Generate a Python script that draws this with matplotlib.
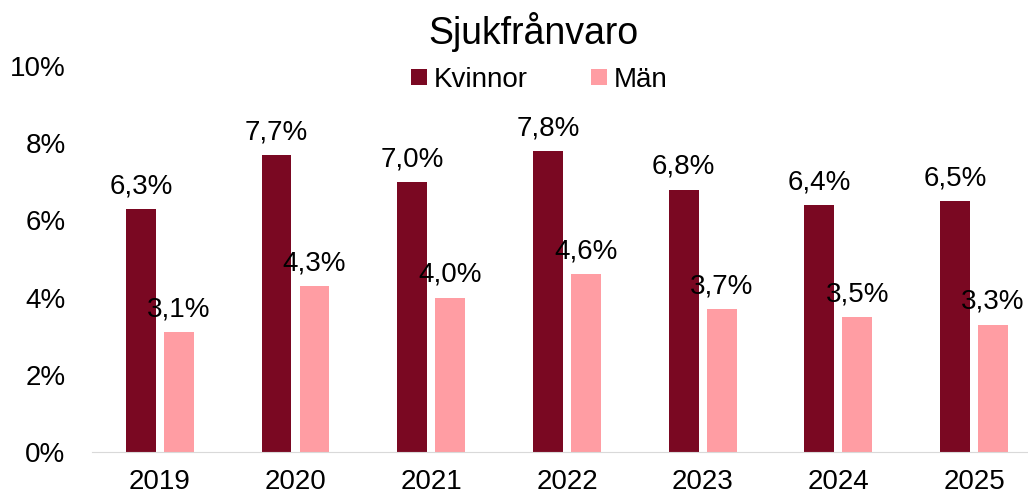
import matplotlib.pyplot as plt
import numpy as np

plt.rcParams['font.family'] = ['Liberation Sans', 'DejaVu Sans']

years = ['2019', '2020', '2021', '2022', '2023', '2024', '2025']
kvinnor = [6.3, 7.7, 7.0, 7.8, 6.8, 6.4, 6.5]
man = [3.1, 4.3, 4.0, 4.6, 3.7, 3.5, 3.3]

dark = '#7A0822'
light = '#FF9DA3'

fig = plt.figure(figsize=(10.28, 4.98), dpi=100)
ax = fig.add_axes([0.0895, 0.0924, 0.924, 0.775])

x = np.arange(len(years))
w = 0.22
b1 = ax.bar(x - 0.14, kvinnor, w, color=dark, label='Kvinnor')
b2 = ax.bar(x + 0.14, man, w, color=light, label='Män')

for rect, v in zip(b1, kvinnor):
    ax.annotate(f'{v:.1f}%'.replace('.', ','), (rect.get_x() + rect.get_width() / 2, v),
                xytext=(0, 7), textcoords='offset points', ha='center', va='bottom', fontsize=20)
for rect, v in zip(b2, man):
    ax.annotate(f'{v:.1f}%'.replace('.', ','), (rect.get_x() + rect.get_width() / 2, v),
                xytext=(0, 7), textcoords='offset points', ha='center', va='bottom', fontsize=20)

ax.set_xlim(-0.5, 6.5)
ax.set_ylim(0, 10)
ax.set_yticks(np.arange(0, 11, 2))
ax.set_yticklabels([f'{t}%' for t in range(0, 11, 2)])
ax.set_xticks(x)
ax.set_xticklabels(years)
ax.tick_params(axis='both', length=0, labelsize=20)
ax.tick_params(axis='x', pad=12.5)
ax.tick_params(axis='y', pad=19)
for s in ['top', 'right', 'left']:
    ax.spines[s].set_visible(False)
ax.spines['bottom'].set_color('#D9D9D9')

fig.text(0.519, 0.936, 'Sjukfrånvaro', ha='center', va='center', fontsize=27)
ax.legend(loc='center', bbox_to_anchor=(0.471, 0.964), ncol=2, frameon=False, fontsize=20,
          handlelength=0.55, handleheight=0.55, columnspacing=2.3, handletextpad=0.25,
          borderpad=0, borderaxespad=0)

fig.savefig('out.png', dpi=100)
